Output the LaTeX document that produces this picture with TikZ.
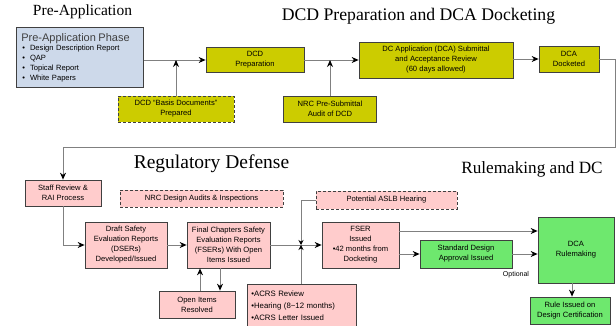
\documentclass[tikz,border=0pt]{standalone}
\usepackage{fontspec}
\setmainfont{Liberation Serif}
\newfontfamily\boxfont{Liberation Sans}
\usetikzlibrary{arrows.meta}

\definecolor{olive}{RGB}{204,204,0}
\definecolor{pinkbox}{RGB}{255,204,204}
\definecolor{greenbox}{RGB}{110,232,110}
\definecolor{bluebox}{RGB}{205,217,234}
\definecolor{lineg}{RGB}{128,128,128}

\begin{document}
\begin{tikzpicture}[x=1pt, y=-1pt,
    box/.style={draw=black!75, line width=0.7pt, align=center, inner sep=1pt,
      font=\boxfont\fontsize{7.6}{10}\selectfont},
    yel/.style={box, fill=olive},
    pnk/.style={box, fill=pinkbox},
    grn/.style={box, fill=greenbox},
    dsh/.style={dashed, dash pattern=on 3pt off 2pt},
    title/.style={font=\fontsize{#1}{20}\selectfont},
    flow/.style={draw=lineg, line width=0.9pt, -{Stealth[color=black, length=7pt, width=6pt]}},
    tiny/.style={draw=lineg, line width=0.9pt, -{Stealth[color=black, length=5pt, width=5pt]}}]
      \useasboundingbox (0,0) rectangle (616,326);
      % titles
      \node[title=15.5] (t1) at (82.5,12) {Pre-Application};
      \node[title=17.7] (t2) at (418.5,16) {DCD Preparation and DCA Docketing};
      \node[title=19.5] (t3) at (211.5,164) {Regulatory Defense};
      \node[title=17.2] (t4) at (532,169) {Rulemaking and DC};
      % top row
      \node[box, fill=bluebox, anchor=north west, text width=117pt, minimum height=60pt,
        inner sep=5pt, align=left] (preapp) at (16,27)
        {{\color{black!75}\fontsize{11}{12}\selectfont Pre-Application Phase}\\[-1pt]
         \hspace{1pt}\textbullet\hspace{5pt}Design Description Report\\
         \hspace{1pt}\textbullet\hspace{5pt}QAP\\
         \hspace{1pt}\textbullet\hspace{5pt}Topical Report\\
         \hspace{1pt}\textbullet\hspace{5pt}White Papers};
      \node[yel, minimum width=98pt, minimum height=25pt] (dcdprep) at (255,60) {DCD\\Preparation};
      \node[yel, minimum width=154pt, minimum height=36pt] (dcaapp) at (436,60)
        {DC Application (DCA) Submittal\\and Acceptance Review\\(60 days allowed)};
      \node[yel, minimum width=60pt, minimum height=26pt] (docketed) at (569,59) {DCA\\Docketed};
      \node[yel, dsh, minimum width=116pt, minimum height=26pt] (basis) at (176,109)
        {DCD “Basis Documents”\\Prepared};
      \node[yel, minimum width=93pt, minimum height=26pt] (audit) at (330,109)
        {NRC Pre-Submittal\\Audit of DCD};
      % lower part
      \node[pnk, minimum width=76pt, minimum height=26pt] (staff) at (63,193) {Staff Review \&\\RAI Process};
      \node[pnk, dsh, minimum width=163pt, minimum height=17pt] (nrcaudits) at (201.5,198.5)
        {NRC Design Audits \& Inspections};
      \node[pnk, minimum width=82pt, minimum height=46pt] (dser) at (126,245)
        {Draft Safety\\Evaluation Reports\\(DSERs)\\Developed/Issued};
      \node[pnk, minimum width=83pt, minimum height=46pt] (final) at (228.5,245)
        {Final Chapters Safety\\Evaluation Reports\\(FSERs) With Open\\Items Issued};
      \node[pnk, minimum width=76pt, minimum height=27pt] (openitems) at (197,304.5) {Open Items\\Resolved};
      \node[pnk, anchor=north west, text width=101pt, minimum height=42pt, inner sep=4pt,
        align=left, font=\boxfont\fontsize{7.8}{12}\selectfont] (acrs) at (247,284)
        {\textbullet ACRS Review\\ \textbullet Hearing (8\textasciitilde12 months)\\ \textbullet ACRS Letter Issued};
      \node[pnk, dsh, minimum width=141pt, minimum height=18pt] (aslb) at (386.5,200) {Potential ASLB Hearing};
      \node[pnk, minimum width=77pt, minimum height=46pt] (fser) at (360.5,245)
        {FSER\\Issued\\\textbullet 42 months from\\Docketing};
      \node[grn, minimum width=92pt, minimum height=28pt] (sda) at (466,254)
        {Standard Design\\Approval Issued};
      \node[grn, minimum width=76pt, minimum height=66pt] (rulemaking) at (576,250) {DCA\\Rulemaking};
      \node[grn, minimum width=80pt, minimum height=27pt] (ruleissued) at (570,310.5)
        {Rule Issued on\\Design Certification};
      \node[font=\boxfont\fontsize{7}{8}\selectfont] (optional) at (516,275) {Optional};
      % helper points
      \coordinate (edgeA) at (615.5,59);
      \coordinate (edgeB) at (615.5,147);
      \coordinate (junc) at (301,245);
      % connectors, top row
      \draw[flow] (preapp.east |- dcdprep.west) -- (dcdprep.west);
      \draw[flow] (basis.north) -- (basis.north |- dcdprep.west);
      \draw[flow] (dcdprep.east) -- (dcaapp.west);
      \draw[flow] (audit.north) -- (audit.north |- dcdprep.east);
      \draw[flow] (dcaapp.east |- docketed.west) -- (docketed.west);
      \draw[flow] (docketed.east) -- (edgeA) -- (edgeB) -| (staff.north);
      % connectors, lower part
      \draw[flow] (staff.south) |- (dser.west);
      \draw[flow] (dser.east) -- (final.west);
      \draw[flow] (final.east) -- (fser.west);
      \draw[tiny] (aslb.west) -| (junc);
      \draw[tiny] (acrs.north -| junc) -- (junc);
      \draw[flow] ([xshift=3pt]openitems.north) -- ([xshift=3pt]openitems.north |- final.south);
      \draw[flow] ([xshift=23pt]final.south -| openitems.north) -- ([xshift=23pt]openitems.north);
      \draw[flow] ([yshift=14pt]fser.east) -- ([yshift=14pt]fser.east -| rulemaking.west);
      \draw[flow] (fser.east |- sda.west) -- (sda.west);
      \draw[flow] (sda.east) -- (sda.east -| rulemaking.west);
      \draw[flow] ([xshift=-4pt]rulemaking.south) -- ([xshift=-4pt]rulemaking.south |- ruleissued.north);
\end{tikzpicture}
\end{document}
